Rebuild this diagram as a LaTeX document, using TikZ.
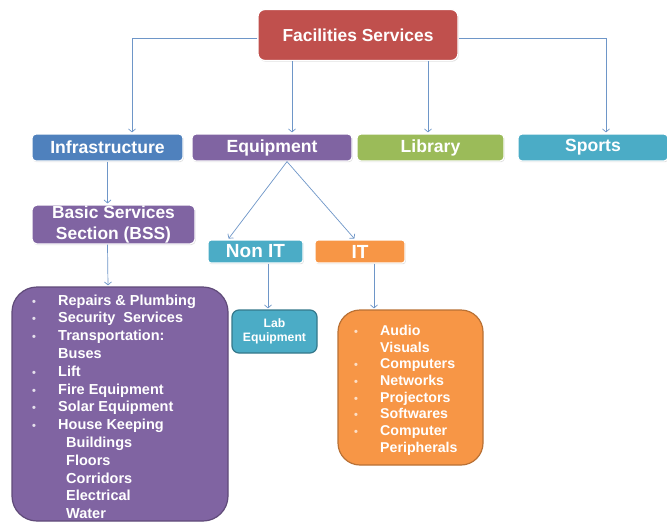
\documentclass[tikz,border=0pt]{standalone}
\usepackage{fontspec}
\setmainfont{Liberation Sans}
\usetikzlibrary{arrows.meta,shadows}

\definecolor{redbox}{HTML}{C0504D}
\definecolor{bluebox}{HTML}{4F81BD}
\definecolor{purplebox}{HTML}{8064A2}
\definecolor{greenbox}{HTML}{9BBB59}
\definecolor{aquabox}{HTML}{4BACC6}
\definecolor{orangebox}{HTML}{F79646}
\definecolor{linkcol}{HTML}{6E96C8}

\newcommand{\pbul}{\textcolor{purplebox!20}{\fontsize{11}{11}\selectfont\textbullet}}
\newcommand{\obul}{\textcolor{orangebox!30}{\fontsize{11}{11}\selectfont\textbullet}}

\begin{document}
\begin{tikzpicture}[x=1pt,y=-1pt,
        box/.style={draw=white,line width=1.2pt,text=white,font=\bfseries,
            drop shadow={shadow xshift=0.8pt,shadow yshift=-1.2pt,opacity=0.25}},
        listbox/.style={line width=1.2pt,text=white,font=\bfseries},
        link/.style={draw=linkcol,line width=0.7pt,shorten >=1pt,
            -{Straight Barb[length=3pt,width=7pt]}}]
        \useasboundingbox[fill=white] (0,0) rectangle (667,523);

        \node[box,fill=redbox,rounded corners=7pt,minimum width=200pt,minimum height=51pt,
            font=\fontsize{17.4}{20}\bfseries] (top) at (358,35) {Facilities Services};

        \node[box,fill=bluebox,rounded corners=4pt,minimum width=151pt,minimum height=27pt,
            font=\fontsize{17.6}{20}\bfseries] (infra) at (107.5,147.5) {Infrastructure};
        \node[box,fill=purplebox,rounded corners=4pt,minimum width=160pt,minimum height=27pt,
            font=\fontsize{17.6}{20}\bfseries] (equip) at (272,147.5) {Equipment};
        \node[box,fill=greenbox,rounded corners=4pt,minimum width=147pt,minimum height=27pt,
            font=\fontsize{17.6}{20}\bfseries] (lib) at (430.5,147.5) {Library};
        \node[box,fill=aquabox,rounded corners=4pt,minimum width=150pt,minimum height=27pt,
            font=\fontsize{17.6}{20}\bfseries] (sports) at (593,147.5) {Sports};

        \node[box,fill=purplebox,rounded corners=5pt,minimum width=163pt,minimum height=39pt,
            align=center,inner sep=0pt,font=\fontsize{17.4}{21.5}\bfseries] (bss) at (113.5,224.5)
            {Basic Services\\Section (BSS)};

        \node[box,fill=aquabox,rounded corners=3pt,minimum width=95pt,minimum height=23pt,
            font=\fontsize{19}{20}\bfseries] (nonit) at (255.5,251.5) {Non IT};
        \node[box,fill=orangebox,rounded corners=3pt,minimum width=90pt,minimum height=23pt,
            font=\fontsize{19}{20}\bfseries] (it) at (360,251.5) {IT};

        \node[listbox,fill=purplebox,draw=purplebox!75!black,rounded corners=25pt,
            minimum width=216pt,minimum height=234pt] (bsslist) at (120,404) {};
        \node[listbox,fill=aquabox,draw=aquabox!70!black,rounded corners=7pt,
            minimum width=85pt,minimum height=43pt,align=center,inner sep=0pt,
            font=\fontsize{12.2}{13.5}\bfseries] (lab) at (274.5,331.5) {Lab\\Equipment};
        \node[listbox,fill=orangebox,draw=orangebox!75!black,rounded corners=22pt,
            minimum width=145pt,minimum height=155pt] (itlist) at (410.5,387.5) {};

        \node[anchor=north west,inner sep=0pt,text=white,font=\fontsize{14.5}{17.8}\bfseries]
            (bssitems) at (32,292.5) {%
            \begin{tabular}{@{}p{26pt}@{}l@{}}
            \pbul & Repairs \& Plumbing\\
            \pbul & Security\ \ Services\\
            \pbul & Transportation:\\
             & Buses\\
            \pbul & Lift\\
            \pbul & Fire Equipment\\
            \pbul & Solar Equipment\\
            \pbul & House Keeping\\
             & \hspace{8pt}Buildings\\
             & \hspace{8pt}Floors\\
             & \hspace{8pt}Corridors\\
             & \hspace{8pt}Electrical\\
             & \hspace{8pt}Water
            \end{tabular}};

        \node[anchor=north west,inner sep=0pt,text=white,font=\fontsize{14.2}{16.7}\bfseries]
            (ititems) at (354,323.5) {%
            \begin{tabular}{@{}p{26pt}@{}l@{}}
            \obul & Audio\\
             & Visuals\\
            \obul & Computers\\
            \obul & Networks\\
            \obul & Projectors\\
            \obul & Softwares\\
            \obul & Computer\\
             & Peripherals
            \end{tabular}};

        \draw[link] ([yshift=-3pt]top.west) -| ([xshift=24.5pt]infra.north);
        \draw[link] ([yshift=-3pt]top.east) -| ([xshift=13pt]sports.north);
        \draw[link] ([xshift=-66pt]top.south) -- ([xshift=20pt]equip.north);
        \draw[link] ([xshift=70pt]top.south) -- ([xshift=-2.5pt]lib.north);

        \draw[link] (infra.south) -- ([xshift=-6pt]bss.north);
        \draw[link] ([xshift=-6pt]bss.south) -- ([xshift=-12pt]bsslist.north);

        \draw[link] ([xshift=15pt]equip.south) -- ([xshift=-27.5pt]nonit.north);
        \draw[link] ([xshift=15pt]equip.south) -- ([xshift=-5pt]it.north);
        \draw[link] ([xshift=12.5pt]nonit.south) -- ([xshift=-6.5pt]lab.north);
        \draw[link] ([xshift=14pt]it.south) -- ([xshift=-36.5pt]itlist.north);
    \end{tikzpicture}
\end{document}
